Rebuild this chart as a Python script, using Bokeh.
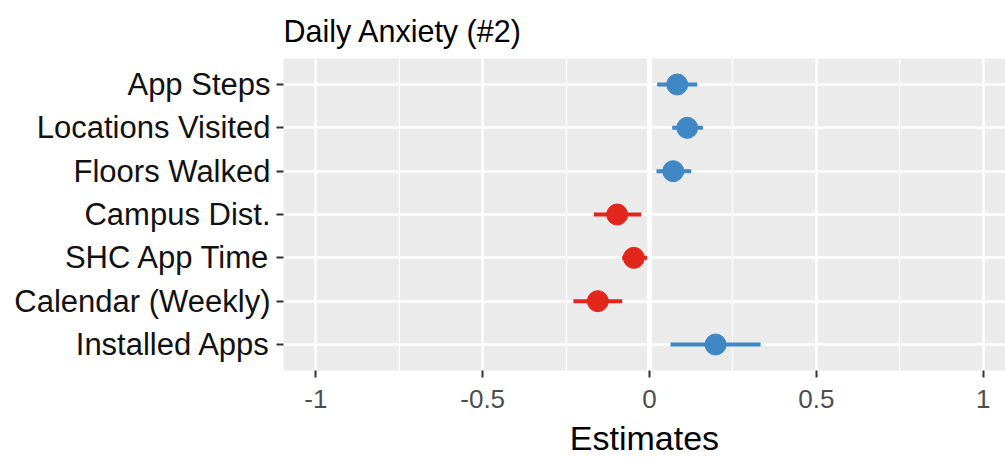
from bokeh.plotting import figure
from bokeh.models import Range1d, FixedTicker, ColumnDataSource, Span
from bokeh.embed import file_html
from bokeh.resources import INLINE

terms = ["App Steps", "Locations Visited", "Floors Walked", "Campus Dist.",
         "SHC App Time", "Calendar (Weekly)", "Installed Apps"]
estimates = [0.083, 0.113, 0.071, -0.097, -0.047, -0.155, 0.198]
ci_low = [0.023, 0.068, 0.021, -0.167, -0.082, -0.228, 0.063]
ci_high = [0.143, 0.160, 0.125, -0.025, -0.007, -0.082, 0.333]
x_ticks = [-1, -0.5, 0, 0.5, 1]
x_tick_labels = ["-1", "-0.5", "0", "0.5", "1"]
x_minor_ticks = [-0.75, -0.25, 0.25, 0.75]

BLUE = "#3F87C5"
RED = "#E2261C"
FONT = "Liberation Sans"

n = len(terms)
ypos = [n - i for i in range(n)]
colors = [BLUE if e > 0 else RED for e in estimates]
src = ColumnDataSource(dict(term=terms, y=ypos, est=estimates, lo=ci_low,
                            hi=ci_high, color=colors))

p = figure(width=1005, height=459, x_range=Range1d(-1.097, 1.067),
           y_range=Range1d(0.4, 7.6), output_backend="svg",
           toolbar_location=None, min_border_left=283, min_border_right=0,
           min_border_top=58, min_border_bottom=86)
p.background_fill_color = "#EBEBEB"
p.border_fill_color = "white"
p.outline_line_color = None

p.title.text = "Daily Anxiety (#2)"
p.title.text_font = FONT
p.title.text_font_size = "30.5px"
p.title.text_font_style = "normal"
p.title.text_color = "#000000"
p.title.align = "left"
p.title.standoff = 22
p.title.text_line_height = 1.0

# grids
p.xgrid.ticker = FixedTicker(ticks=x_ticks, minor_ticks=x_minor_ticks)
p.xgrid.grid_line_color = "white"
p.xgrid.grid_line_width = 2.5
p.xgrid.minor_grid_line_color = "white"
p.xgrid.minor_grid_line_width = 1.2
p.ygrid.ticker = FixedTicker(ticks=ypos)
p.ygrid.grid_line_color = "white"
p.ygrid.grid_line_width = 2.5

zero = Span(location=0, dimension="height", line_color="white",
            line_width=5, level="underlay")
p.add_layout(zero)

p.segment(x0="lo", y0="y", x1="hi", y1="y", line_color="color",
          line_width=4, source=src)
p.scatter(x="est", y="y", size=21, fill_color="color", line_color="color",
          source=src)

# axes
p.axis.axis_line_color = None
p.axis.major_tick_line_color = "#333333"
p.axis.major_tick_line_width = 2
p.axis.major_tick_out = 7
p.axis.major_tick_in = 0
p.axis.minor_tick_line_color = None

p.xaxis.ticker = FixedTicker(ticks=x_ticks)
p.xaxis.major_label_overrides = {t: s for t, s in zip(x_ticks, x_tick_labels)}
p.xaxis.major_label_text_font = FONT
p.xaxis.major_label_text_font_size = "26px"
p.xaxis.major_label_text_color = "#4D4D4D"
p.xaxis.major_label_standoff = 12
p.xaxis.axis_label = "Estimates"
p.xaxis.axis_label_text_font = FONT
p.xaxis.axis_label_text_font_size = "34px"
p.xaxis.axis_label_text_font_style = "normal"
p.xaxis.axis_label_text_color = "#000000"
p.xaxis.axis_label_standoff = 8

p.yaxis.ticker = FixedTicker(ticks=ypos)
p.yaxis.major_label_overrides = {y: t for y, t in zip(ypos, terms)}
p.yaxis.major_label_text_font = FONT
p.yaxis.major_label_text_font_size = "31px"
p.yaxis.major_label_text_color = "#111111"
p.yaxis.major_label_standoff = 6

open("out.html", "w").write(file_html(p, INLINE))
